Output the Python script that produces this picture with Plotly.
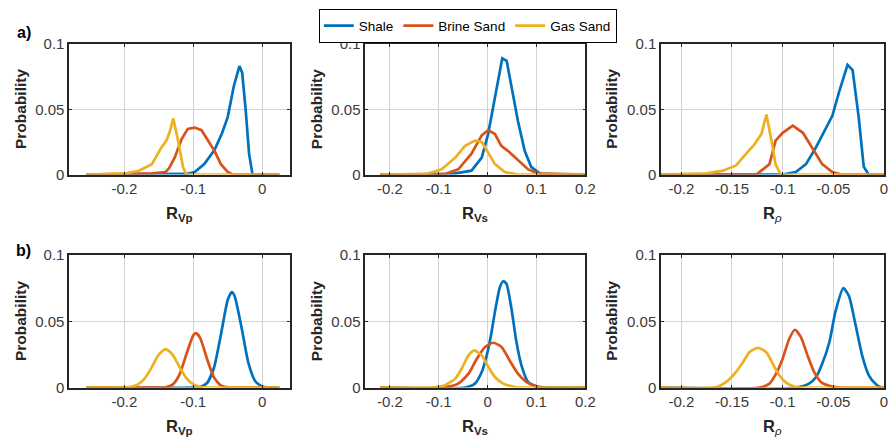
import plotly.graph_objects as go

# ---------------- data ----------------
series_names = ["Shale", "Brine Sand", "Gas Sand"]
series_colors = ["#0072BD", "#D95319", "#EDB120"]

# Row a) -- R_Vp
a_vp_shale_x = [-0.255, -0.13, -0.11, -0.098, -0.084, -0.069, -0.058, -0.050, -0.045, -0.041, -0.033, -0.029, -0.024, -0.019, -0.014, 0.025]
a_vp_shale_y = [0, 0, 0.0005, 0.002, 0.008, 0.019, 0.032, 0.044, 0.057, 0.068, 0.083, 0.078, 0.050, 0.016, 0, 0]
a_vp_brine_x = [-0.255, -0.2, -0.16, -0.14, -0.135, -0.127, -0.117, -0.108, -0.098, -0.088, -0.079, -0.069, -0.060, -0.050, -0.042, 0.025]
a_vp_brine_y = [0, 0.0005, 0.001, 0.002, 0.005, 0.013, 0.027, 0.035, 0.036, 0.034, 0.026, 0.018, 0.008, 0.002, 0, 0]
a_vp_gas_x = [-0.255, -0.198, -0.179, -0.160, -0.146, -0.139, -0.134, -0.129, -0.122, -0.115, -0.110, 0.025]
a_vp_gas_y = [0, 0.001, 0.003, 0.008, 0.021, 0.026, 0.033, 0.043, 0.026, 0.006, 0, 0]

# Row a) -- R_Vs
a_vs_shale_x = [-0.22, -0.08, -0.033, -0.012, 0.001, 0.015, 0.025, 0.030, 0.039, 0.049, 0.062, 0.076, 0.089, 0.11, 0.2]
a_vs_shale_y = [0, 0, 0.003, 0.013, 0.031, 0.059, 0.082, 0.089, 0.087, 0.067, 0.041, 0.018, 0.006, 0, 0]
a_vs_brine_x = [-0.22, -0.087, -0.060, -0.033, -0.012, 0.001, 0.015, 0.028, 0.042, 0.062, 0.083, 0.103, 0.2]
a_vs_brine_y = [0, 0.0005, 0.004, 0.016, 0.030, 0.034, 0.031, 0.022, 0.018, 0.011, 0.004, 0.001, 0]
a_vs_gas_x = [-0.22, -0.127, -0.094, -0.066, -0.046, -0.026, -0.012, 0.001, 0.015, 0.035, 0.062, 0.2]
a_vs_gas_y = [0, 0.0003, 0.004, 0.013, 0.022, 0.026, 0.025, 0.017, 0.008, 0.002, 0, 0]

# Row a) -- R_rho
a_rho_shale_x = [-0.22, -0.1, -0.087, -0.077, -0.067, -0.058, -0.051, -0.044, -0.036, -0.031, -0.025, -0.020, -0.015, 0]
a_rho_shale_y = [0, 0, 0.002, 0.008, 0.021, 0.034, 0.045, 0.064, 0.084, 0.080, 0.044, 0.006, 0, 0]
a_rho_brine_x = [-0.22, -0.126, -0.113, -0.107, -0.100, -0.090, -0.080, -0.071, -0.061, -0.051, -0.042, 0]
a_rho_brine_y = [0, 0, 0.008, 0.026, 0.032, 0.0375, 0.032, 0.021, 0.008, 0.002, 0, 0]
a_rho_gas_x = [-0.22, -0.175, -0.159, -0.146, -0.136, -0.128, -0.121, -0.116, -0.111, -0.107, -0.102, 0]
a_rho_gas_y = [0, 0.001, 0.003, 0.007, 0.016, 0.023, 0.031, 0.046, 0.026, 0.008, 0, 0]

# Row b) -- R_Vp
b_vp_shale_x = [-0.255, -0.10, -0.09, -0.08, -0.07, -0.06, -0.05, -0.044, -0.04, -0.03, -0.02, -0.01, 0.0, 0.01, 0.025]
b_vp_shale_y = [0, 0, 0.0005, 0.0035, 0.0148, 0.0395, 0.066, 0.072, 0.069, 0.0455, 0.0187, 0.0048, 0.0008, 0.0001, 0]
b_vp_brine_x = [-0.255, -0.15, -0.14, -0.13, -0.12, -0.11, -0.10, -0.096, -0.09, -0.08, -0.07, -0.06, -0.05, -0.04, 0.025]
b_vp_brine_y = [0, 0, 0.0003, 0.0023, 0.0098, 0.0251, 0.0394, 0.041, 0.0375, 0.0216, 0.0077, 0.0016, 0.0002, 0, 0]
b_vp_gas_x = [-0.255, -0.21, -0.20, -0.19, -0.18, -0.17, -0.16, -0.15, -0.14, -0.13, -0.12, -0.11, -0.10, -0.09, -0.08, -0.07, 0.025]
b_vp_gas_y = [0, 0, 0.0001, 0.0006, 0.0025, 0.0072, 0.0156, 0.0249, 0.029, 0.0249, 0.0156, 0.0072, 0.0025, 0.0006, 0.0001, 0, 0]

# Row b) -- R_Vs
b_vs_shale_x = [-0.22, -0.046, -0.026, -0.012, -0.0054, 0.0014, 0.0081, 0.0149, 0.0251, 0.0319, 0.0386, 0.0488, 0.059, 0.0692, 0.0827, 0.103, 0.2]
b_vs_shale_y = [0, 0, 0.003, 0.0118, 0.0193, 0.0293, 0.0419, 0.0569, 0.0757, 0.0802, 0.0782, 0.0594, 0.0343, 0.0168, 0.0043, 0.0005, 0]
b_vs_brine_x = [-0.22, -0.094, -0.06, -0.039, -0.022, -0.005, 0.0115, 0.0285, 0.045, 0.062, 0.079, 0.096, 0.117, 0.2]
b_vs_brine_y = [0, 0, 0.003, 0.0105, 0.0218, 0.0306, 0.0338, 0.0306, 0.0205, 0.0105, 0.0043, 0.0013, 0, 0]
b_vs_gas_x = [-0.22, -0.114, -0.087, -0.066, -0.053, -0.039, -0.027, -0.012, 0.0014, 0.015, 0.032, 0.056, 0.076, 0.2]
b_vs_gas_y = [0, 0, 0.0018, 0.0068, 0.0143, 0.0243, 0.028, 0.0243, 0.0155, 0.008, 0.003, 0.0005, 0, 0]

# Row b) -- R_rho
b_rho_shale_x = [-0.22, -0.087, -0.074, -0.067, -0.061, -0.054, -0.048, -0.0402, -0.0346, -0.028, -0.0216, -0.015, -0.0085, -0.0036, 0]
b_rho_shale_y = [0, 0, 0.003, 0.008, 0.018, 0.034, 0.057, 0.075, 0.069, 0.047, 0.0243, 0.0093, 0.003, 0.0005, 0.0002]
b_rho_brine_x = [-0.22, -0.123, -0.113, -0.1065, -0.1, -0.0935, -0.0879, -0.082, -0.0755, -0.069, -0.0624, -0.054, -0.0444, 0]
b_rho_brine_y = [0, 0, 0.003, 0.0105, 0.0218, 0.0368, 0.0436, 0.038, 0.0243, 0.0118, 0.0043, 0.0013, 0, 0]
b_rho_gas_x = [-0.22, -0.165, -0.1556, -0.1474, -0.139, -0.1327, -0.1245, -0.1163, -0.1098, -0.1033, -0.0967, -0.087, -0.077, 0]
b_rho_gas_y = [0, 0.0005, 0.0043, 0.0105, 0.0193, 0.0268, 0.030, 0.0268, 0.018, 0.0093, 0.0038, 0.0005, 0, 0]

# axes / ticks
x_ranges = [[-0.28, 0.04], [-0.25, 0.2], [-0.22, 0.0]]
x_tickvals = [[-0.2, -0.1, 0], [-0.2, -0.1, 0, 0.1, 0.2], [-0.2, -0.15, -0.1, -0.05, 0]]
x_ticktext = [["-0.2", "-0.1", "0"], ["-0.2", "-0.1", "0", "0.1", "0.2"], ["-0.2", "-0.15", "-0.1", "-0.05", "0"]]
y_tickvals = [0, 0.05, 0.1]
y_ticktext = ["0", "0.05", "0.1"]
x_titles = ["<b>R<sub>Vp</sub></b>", "<b>R<sub>Vs</sub></b>", "<b>R</b><sub><i>ρ</i></sub>"]
y_title = "Probability"
panel_labels = ["a)", "b)"]

panels = [
    [(a_vp_shale_x, a_vp_shale_y), (a_vp_brine_x, a_vp_brine_y), (a_vp_gas_x, a_vp_gas_y)],
    [(a_vs_shale_x, a_vs_shale_y), (a_vs_brine_x, a_vs_brine_y), (a_vs_gas_x, a_vs_gas_y)],
    [(a_rho_shale_x, a_rho_shale_y), (a_rho_brine_x, a_rho_brine_y), (a_rho_gas_x, a_rho_gas_y)],
    [(b_vp_shale_x, b_vp_shale_y), (b_vp_brine_x, b_vp_brine_y), (b_vp_gas_x, b_vp_gas_y)],
    [(b_vs_shale_x, b_vs_shale_y), (b_vs_brine_x, b_vs_brine_y), (b_vs_gas_x, b_vs_gas_y)],
    [(b_rho_shale_x, b_rho_shale_y), (b_rho_brine_x, b_rho_brine_y), (b_rho_gas_x, b_rho_gas_y)],
]

# ---------------- layout geometry ----------------
W, H = 896, 447
# the page snapshot maps figure y to picture y as 8 + 0.9642*y; invert it
def fy(y_pic):
    return max(0.0, (y_pic - 8) / 0.9642)

col_px = [(70, 293), (369.5, 592), (668.5, 894)]
row_px = [(fy(43), fy(174)), (fy(254.5), fy(387.5))]  # top, bottom (figure px)
FONT = "Liberation Sans, Arial, sans-serif"
AX = "#262626"

fig = go.Figure()
layout = dict(
    width=W, height=H, margin=dict(l=0, r=0, t=0, b=0),
    paper_bgcolor="white", plot_bgcolor="white",
    font=dict(family=FONT, size=15, color=AX),
    showlegend=True,
    legend=dict(orientation="h", x=0.528, xanchor="center", y=1.0, yanchor="top",
                bordercolor="#000000", borderwidth=1.3, bgcolor="white",
                font=dict(family=FONT, size=13.5, color="#000000"),
                itemwidth=30, tracegroupgap=0),
)
annotations = []

for idx, series in enumerate(panels):
    r, c = divmod(idx, 3)
    n = idx + 1
    xa = "xaxis" if n == 1 else f"xaxis{n}"
    ya = "yaxis" if n == 1 else f"yaxis{n}"
    xref = "x" if n == 1 else f"x{n}"
    yref = "y" if n == 1 else f"y{n}"
    x0, x1 = col_px[c]
    top, bot = row_px[r]
    for s, (xs, ys) in enumerate(series):
        fig.add_trace(go.Scatter(
            x=xs, y=ys, mode="lines", name=series_names[s],
            line=dict(color=series_colors[s], width=2.7,
                      shape="spline" if r == 1 else "linear", smoothing=0.6),
            xaxis=xref, yaxis=yref, showlegend=(idx == 0), legendgroup=series_names[s],
        ))
    layout[xa] = dict(
        domain=[x0 / W, x1 / W], anchor=yref, range=x_ranges[c],
        tickvals=x_tickvals[c], ticktext=x_ticktext[c],
        showgrid=True, gridcolor="#d4d4d4", gridwidth=1, zeroline=False,
        showline=True, linecolor=AX, linewidth=1.6, mirror="ticks",
        ticks="inside", ticklen=3, tickcolor=AX,
        tickfont=dict(family=FONT, size=15, color="#3a3a3a"),
    )
    layout[ya] = dict(
        domain=[1 - bot / H, 1 - top / H], anchor=xref, range=[0, 0.1],
        tickvals=y_tickvals, ticktext=y_ticktext,
        showgrid=True, gridcolor="#d4d4d4", gridwidth=1, zeroline=False,
        showline=True, linecolor=AX, linewidth=1.6, mirror="ticks",
        ticks="inside", ticklen=3, tickcolor=AX,
        tickfont=dict(family=FONT, size=15, color="#3a3a3a"),
    )
    # x title
    annotations.append(dict(
        text=x_titles[c], xref="paper", yref="paper",
        x=(x0 + x1) / 2 / W, y=1 - (bot + 28.5) / H, xanchor="center", yanchor="top",
        showarrow=False, font=dict(family=FONT, size=16.5, color=AX),
    ))
    # y title
    annotations.append(dict(
        text="<b>" + y_title + "</b>", xref="paper", yref="paper",
        x=(x0 - 50) / W, y=1 - (top + bot) / 2 / H, xanchor="center", yanchor="middle",
        textangle=-90, showarrow=False, font=dict(family=FONT, size=15.5, color=AX),
    ))

label_y = [fy(32), fy(250)]
for r, lab in enumerate(panel_labels):
    annotations.append(dict(
        text="<b>" + lab + "</b>", xref="paper", yref="paper",
        x=24 / W, y=1 - label_y[r] / H, xanchor="center", yanchor="middle",
        showarrow=False, font=dict(family=FONT, size=16, color="#000000"),
    ))

layout["annotations"] = annotations
fig.update_layout(**layout)
fig.write_html("out.html", config={"displayModeBar": False},
               post_script="document.body.style.margin='0px';document.body.style.overflow='hidden';")
